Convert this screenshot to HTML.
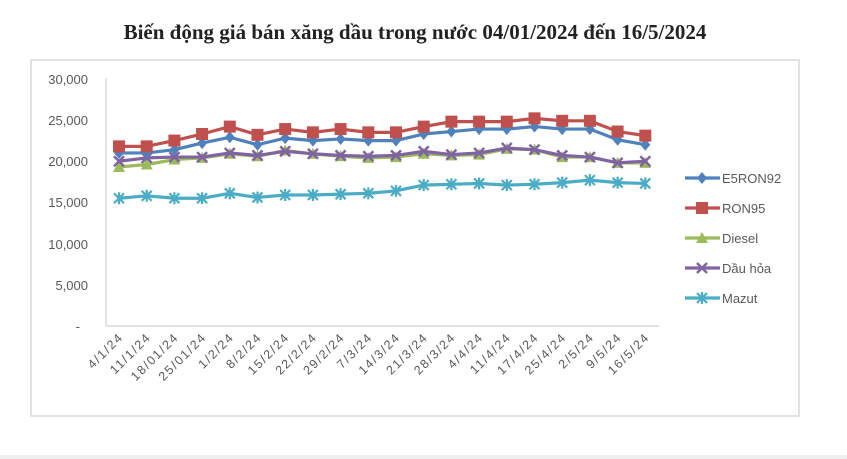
<!DOCTYPE html>
<html><head><meta charset="utf-8"><style>
html,body{margin:0;padding:0;background:#fff;width:847px;height:459px;overflow:hidden}
</style></head><body>
<svg id="s" width="847" height="459" xmlns="http://www.w3.org/2000/svg" font-family="Liberation Sans, sans-serif">
<rect x="0" y="455" width="847" height="4" fill="#f0f0f0"/>
<text x="415" y="39" text-anchor="middle" font-family="Liberation Serif, serif" font-weight="bold" font-size="21" fill="#222">Biến động giá bán xăng dầu trong nước 04/01/2024 đến 16/5/2024</text>
<rect x="31" y="60" width="768" height="356" fill="#fff" stroke="#d9d9d9" stroke-width="1.5"/>
<line x1="106" y1="78" x2="106" y2="326" stroke="#d9d9d9" stroke-width="1.5"/>
<line x1="106" y1="326" x2="659" y2="326" stroke="#d9d9d9" stroke-width="1.5"/>
<g font-size="13" fill="#595959" text-anchor="end">
<text x="88" y="84">30,000</text><text x="88" y="125">25,000</text><text x="88" y="166">20,000</text>
<text x="88" y="207">15,000</text><text x="88" y="249">10,000</text><text x="88" y="290">5,000</text><text x="80" y="331">-</text>
</g>
<g id="xl" font-size="12.5" fill="#595959" text-anchor="end" letter-spacing="1.6">
<text transform="translate(124,338) rotate(-45)">4/1/24</text>
<text transform="translate(151.7,338) rotate(-45)">11/1/24</text>
<text transform="translate(179.4,338) rotate(-45)">18/01/24</text>
<text transform="translate(207.1,338) rotate(-45)">25/01/24</text>
<text transform="translate(234.8,338) rotate(-45)">1/2/24</text>
<text transform="translate(262.5,338) rotate(-45)">8/2/24</text>
<text transform="translate(290.2,338) rotate(-45)">15/2/24</text>
<text transform="translate(317.9,338) rotate(-45)">22/2/24</text>
<text transform="translate(345.6,338) rotate(-45)">29/2/24</text>
<text transform="translate(373.3,338) rotate(-45)">7/3/24</text>
<text transform="translate(401,338) rotate(-45)">14/3/24</text>
<text transform="translate(428.7,338) rotate(-45)">21/3/24</text>
<text transform="translate(456.4,338) rotate(-45)">28/3/24</text>
<text transform="translate(484.1,338) rotate(-45)">4/4/24</text>
<text transform="translate(511.8,338) rotate(-45)">11/4/24</text>
<text transform="translate(539.5,338) rotate(-45)">17/4/24</text>
<text transform="translate(567.2,338) rotate(-45)">25/4/24</text>
<text transform="translate(594.9,338) rotate(-45)">2/5/24</text>
<text transform="translate(622.6,338) rotate(-45)">9/5/24</text>
<text transform="translate(650.3,338) rotate(-45)">16/5/24</text>
</g>
<g id="plot"></g>
<g font-size="13" fill="#595959">
<text x="722" y="183">E5RON92</text><text x="722" y="213">RON95</text><text x="722" y="243">Diesel</text><text x="722" y="273">Dầu hỏa</text><text x="722" y="303">Mazut</text>
</g>
<g id="leg"></g>
</svg>
<script>
var NS="http://www.w3.org/2000/svg";
function el(t,a,p){var e=document.createElementNS(NS,t);for(var k in a)e.setAttribute(k,a[k]);p.appendChild(e);return e;}
var S=[
{c:"#4bacc6",m:"star",d:[15500,15800,15500,15500,16100,15600,15900,15900,16000,16100,16400,17100,17200,17300,17100,17200,17400,17700,17400,17300]},
{c:"#9bbb59",m:"tri",d:[19300,19600,20200,20400,20900,20600,21300,20900,20600,20400,20500,20900,20700,20800,21500,21400,20500,20500,19800,19800]},
{c:"#8064a2",m:"x",d:[20000,20400,20500,20500,21000,20700,21200,20900,20700,20600,20700,21200,20800,21000,21600,21400,20700,20500,19800,20000]},
{c:"#4f81bd",m:"dia",d:[21000,21000,21400,22200,22900,22000,22800,22500,22700,22500,22500,23300,23600,23900,23900,24200,23900,23900,22600,22000]},
{c:"#c0504d",m:"sq",d:[21800,21800,22500,23300,24200,23200,23900,23500,23900,23500,23500,24200,24800,24800,24800,25200,24900,24900,23600,23100]}
];
function mk(g,m,x,y,c){
 if(m=="sq")el("rect",{x:x-6,y:y-6,width:12,height:12,fill:c},g);
 else if(m=="dia")el("polygon",{points:(x)+","+(y-6)+" "+(x+5)+","+y+" "+x+","+(y+6)+" "+(x-5)+","+y,fill:c},g);
 else if(m=="tri")el("polygon",{points:x+","+(y-6)+" "+(x+6)+","+(y+5)+" "+(x-6)+","+(y+5),fill:c},g);
 else if(m=="x"){el("path",{d:"M"+(x-5)+" "+(y-5)+"L"+(x+5)+" "+(y+5)+"M"+(x+5)+" "+(y-5)+"L"+(x-5)+" "+(y+5),stroke:c,"stroke-width":2.5},g);}
 else {el("path",{d:"M"+(x-5)+" "+(y-5)+"L"+(x+5)+" "+(y+5)+"M"+(x+5)+" "+(y-5)+"L"+(x-5)+" "+(y+5)+"M"+x+" "+(y-6)+"L"+x+" "+(y+6),stroke:c,"stroke-width":2.2},g);}
}
var P=document.getElementById("plot"),L=document.getElementById("leg");
S.forEach(function(s){
 var pts=s.d.map(function(v,i){return [119+i*27.7,326-v*0.00824];});
 el("polyline",{points:pts.map(function(p){return p.join(",")}).join(" "),fill:"none",stroke:s.c,"stroke-width":3.2,"stroke-linejoin":"round"},P);
 pts.forEach(function(p){mk(P,s.m,p[0],p[1],s.c);});
});
var ly={dia:178,sq:208,tri:238,x:268,star:298};
S.forEach(function(s){var y=ly[s.m];el("line",{x1:685,y1:y,x2:720,y2:y,stroke:s.c,"stroke-width":3.2},L);mk(L,s.m,702,y,s.c);});
</script>
</body></html>
